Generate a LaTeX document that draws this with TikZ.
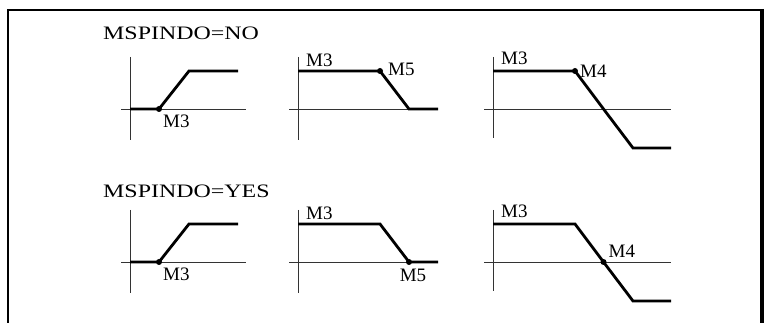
\documentclass[tikz,border=0pt]{standalone}
\usepackage{fontspec}
\setmainfont{Liberation Serif}
\usetikzlibrary{positioning}

\begin{document}
\begin{tikzpicture}[x=1pt,y=-1pt,font=\fontsize{19}{22}\selectfont,
  axis/.style={line width=0.9pt,black!80},
  feed/.style={line width=2.8pt},
  dot/.style={circle,fill,inner sep=0pt,minimum size=6pt},
  lbl/.style={inner sep=0pt}]
  \useasboundingbox (0,0) rectangle (764,323);
  % frame, open at the bottom
  \draw[line width=2pt] (8,323) -- (8,10) -- (762,10);
  \draw[line width=4pt] (762,9) -- (762,323);
  \foreach \r/\b/\yes/\tb in {1/109/NO/40,2/262/YES/198}{
    \node[lbl,anchor=base west] (title\r) at (103,\tb) {\scalebox{1.26}[1]{MSPINDO=\yes}};
    \foreach \p/\ox/\ex/\vb in {1/130/246/31,2/298/438/31,3/493/671/29}{
      \draw[axis] (\ox,\b-52) -- (\ox,\b+\vb);
      \draw[axis] (\ox-9,\b) -- (\ex,\b);}
    % speed profiles
    \draw[feed] (130,\b) -- (159,\b) coordinate (d\r1) -- (189,\b-38) -- (238,\b-38);
    \draw[feed] (298,\b-38) coordinate (s\r2) -- (380,\b-38) coordinate (k\r2)
      -- (409,\b) coordinate (z\r2) -- (438,\b);
    \draw[feed] (493,\b-38) coordinate (s\r3) -- (575,\b-38) coordinate (k\r3)
      -- (603.5,\b) coordinate (x\r3) -- (633,\b+39) -- (671,\b+39);
    \node[dot] (p\r1) at (d\r1) {};
    \node[lbl,below right=6pt and 4pt of d\r1] (m\r1) {M3};
    \node[lbl,above right=4pt and 8pt of s\r2] (a\r2) {M3};
    \node[lbl,above right=6pt and 8pt of s\r3] (a\r3) {M3};
  }
  % row 1: NO
  \node[dot] (p12) at (k12) {};
  \node[lbl,right=8pt of k12,yshift=2pt] (m12) {M5};
  \node[dot] (p13) at (k13) {};
  \node[lbl,right=5pt of k13] (m13) {M4};
  % row 2: YES
  \node[dot] (p22) at (z22) {};
  \node[lbl,below=7pt of z22,xshift=4pt] (m22) {M5};
  \node[dot] (p23) at (x23) {};
  \node[lbl,above right=4pt and 5pt of x23] (m23) {M4};
\end{tikzpicture}
\end{document}
